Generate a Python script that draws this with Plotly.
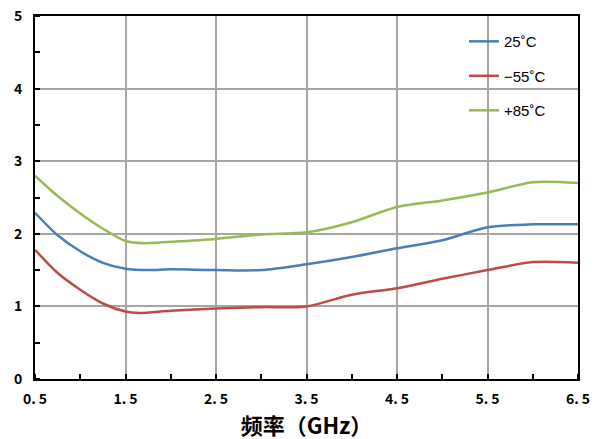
import plotly.graph_objects as go

freq_25 = [0.5, 0.75, 1.0, 1.25, 1.5, 1.75, 2.0, 2.5, 3.0, 3.5, 4.0, 4.5, 5.0, 5.5, 6.0, 6.5]
val_25 = [2.29, 1.98, 1.76, 1.60, 1.52, 1.50, 1.51, 1.50, 1.50, 1.58, 1.68, 1.80, 1.91, 2.09, 2.13, 2.13]

freq_m55 = [0.5, 0.75, 1.0, 1.25, 1.5, 1.65, 2.0, 2.5, 3.0, 3.5, 4.0, 4.5, 5.0, 5.5, 6.0, 6.5]
val_m55 = [1.78, 1.46, 1.23, 1.04, 0.93, 0.91, 0.94, 0.97, 0.99, 1.00, 1.16, 1.25, 1.38, 1.50, 1.61, 1.60]

freq_85 = [0.5, 0.75, 1.0, 1.25, 1.5, 1.7, 2.0, 2.5, 3.0, 3.5, 4.0, 4.5, 5.0, 5.5, 6.0, 6.5]
val_85 = [2.80, 2.52, 2.28, 2.07, 1.90, 1.87, 1.89, 1.93, 1.99, 2.02, 2.16, 2.37, 2.46, 2.57, 2.71, 2.70]

x_ticks = [0.5, 1.5, 2.5, 3.5, 4.5, 5.5, 6.5]
x_tick_labels = ["0. 5", "1. 5", "2. 5", "3. 5", "4. 5", "5. 5", "6. 5"]
y_ticks = [0, 1, 2, 3, 4, 5]

series = [
    ("25˚C", freq_25, val_25, "#4A7EBB"),
    ("−55˚C", freq_m55, val_m55, "#BE4B48"),
    ("+85˚C", freq_85, val_85, "#98B954"),
]

fig = go.Figure()
for i, (name, xs, ys, color) in enumerate(series):
    fig.add_trace(go.Scatter(
        x=xs, y=ys, name=name, mode="lines",
        line=dict(color=color, width=2.5, shape="spline", smoothing=0.8),
        legendgroup=f"g{i}",
    ))

axis_font = dict(family="Noto Sans CJK SC, DejaVu Sans", size=14, color="black", weight="bold")

fig.update_layout(
    width=602, height=439,
    margin=dict(l=27, r=32, t=8, b=68, autoexpand=False),
    paper_bgcolor="white", plot_bgcolor="white",
    font=dict(family="Liberation Sans, Arial", color="black"),
    legend=dict(
        x=0.79, y=0.975, xanchor="left", yanchor="top",
        bgcolor="rgba(0,0,0,0)", borderwidth=0,
        font=dict(family="Liberation Sans, Arial", size=15, color="black"),
        tracegroupgap=12, itemwidth=30,
    ),
    xaxis=dict(
        range=[0.5, 6.5], tickvals=x_ticks, ticktext=x_tick_labels,
        tickfont=axis_font, automargin=False, ticklabelstandoff=6,
        ticklabeloverflow="allow",
        showgrid=True, gridcolor="#A6A6A6", gridwidth=2,
        showline=True, linecolor="black", linewidth=2, mirror=True,
        ticks="", zeroline=False,
        minor=dict(tick0=0.5, dtick=0.5, ticks="inside", ticklen=5, tickcolor="black", tickwidth=2, showgrid=False),
        title=dict(text="频率（GHz）", font=dict(family="Noto Sans CJK SC", size=22, color="black", weight="bold"), standoff=6),
    ),
    yaxis=dict(
        range=[0, 5], tickvals=y_ticks,
        tickfont=axis_font, automargin=False, ticklabelstandoff=8,
        ticklabeloverflow="allow",
        showgrid=True, gridcolor="#A6A6A6", gridwidth=2,
        showline=True, linecolor="black", linewidth=2, mirror=True,
        ticks="", zeroline=False,
        minor=dict(tick0=0, dtick=0.5, ticks="inside", ticklen=5, tickcolor="black", tickwidth=2, showgrid=False),
    ),
)

fig.write_html("out.html")
